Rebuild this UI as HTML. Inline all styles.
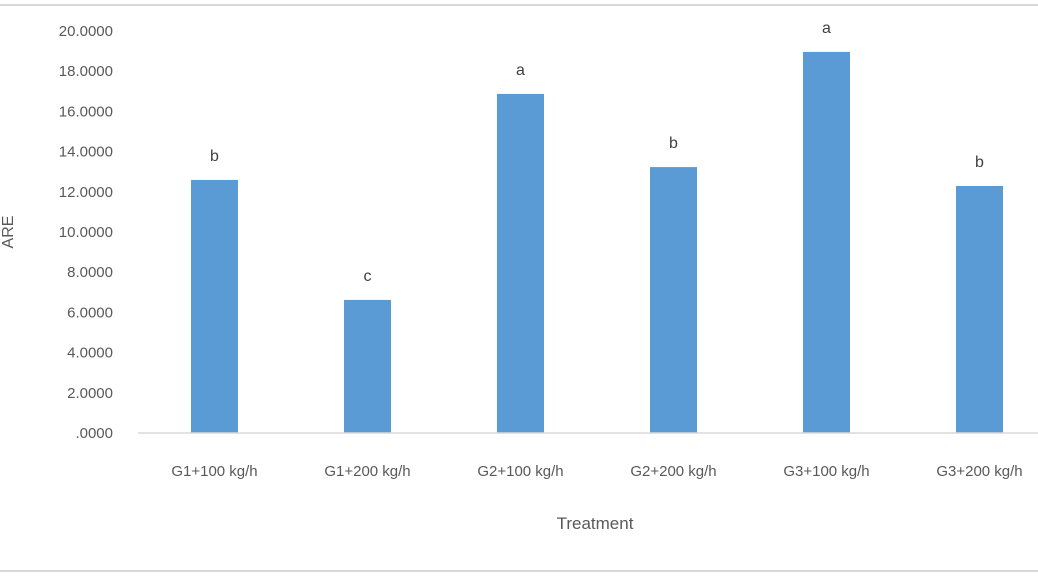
<!DOCTYPE html>
<html><head><meta charset="utf-8"><style>
html,body{margin:0;padding:0;background:#fff;}
body{width:1038px;height:576px;overflow:hidden;font-family:"Liberation Sans",sans-serif;}
</style></head><body>
<svg width="1038" height="576" xmlns="http://www.w3.org/2000/svg">
<line x1="0" y1="5" x2="1038" y2="5" stroke="#d9d9d9" stroke-width="2"/>
<line x1="0" y1="571" x2="1038" y2="571" stroke="#d9d9d9" stroke-width="2"/>
<g id="yticks"></g>
<g id="bars"></g>
<g id="xlabels"></g>
<line x1="138" y1="433" x2="1038" y2="433" stroke="#d9d9d9" stroke-width="1.5"/>
<text x="595" y="529" text-anchor="middle" font-size="17" fill="#595959">Treatment</text>
<text x="0" y="0" transform="translate(13,232) rotate(-90)" text-anchor="middle" font-size="16" fill="#595959">ARE</text>
</svg>
<script>
const categories=["G1+100 kg/h","G1+200 kg/h","G2+100 kg/h","G2+200 kg/h","G3+100 kg/h","G3+200 kg/h"];
const values=[12.59,6.62,16.87,13.23,18.96,12.29];
const letters=["b","c","a","b","a","b"];
const yTicks=[0,2,4,6,8,10,12,14,16,18,20];
const yTickLabels=[".0000","2.0000","4.0000","6.0000","8.0000","10.0000","12.0000","14.0000","16.0000","18.0000","20.0000"];
const NS="http://www.w3.org/2000/svg";
const y0=433,yTop=31,left=138,band=153,bw=47;
function y(v){return y0-(v/20)*(y0-yTop);}
function xc(i){return left+band*i+band/2;}
function mk(t,a,txt){const e=document.createElementNS(NS,t);for(const k in a)e.setAttribute(k,a[k]);if(txt!=null)e.textContent=txt;return e;}
const yt=document.getElementById('yticks');
yTicks.forEach((v,i)=>{const t=mk('text',{x:113,y:y(v)+5,'text-anchor':'end','font-size':15,fill:'#595959'},yTickLabels[i]);


yt.appendChild(t);});
const bg=document.getElementById('bars'),xl=document.getElementById('xlabels');
values.forEach((v,i)=>{
const r=mk('rect',{x:xc(i)-bw/2,y:y(v),width:bw,height:y0-y(v),fill:'#5b9bd5'});


bg.appendChild(r);
const l=mk('text',{x:xc(i),y:y(v)-19,'text-anchor':'middle','font-size':16,fill:'#404040'},letters[i]);


bg.appendChild(l);
const c=mk('text',{x:xc(i),y:476,'text-anchor':'middle','font-size':15,fill:'#595959'},categories[i]);


xl.appendChild(c);
});
</script>
</body></html>
